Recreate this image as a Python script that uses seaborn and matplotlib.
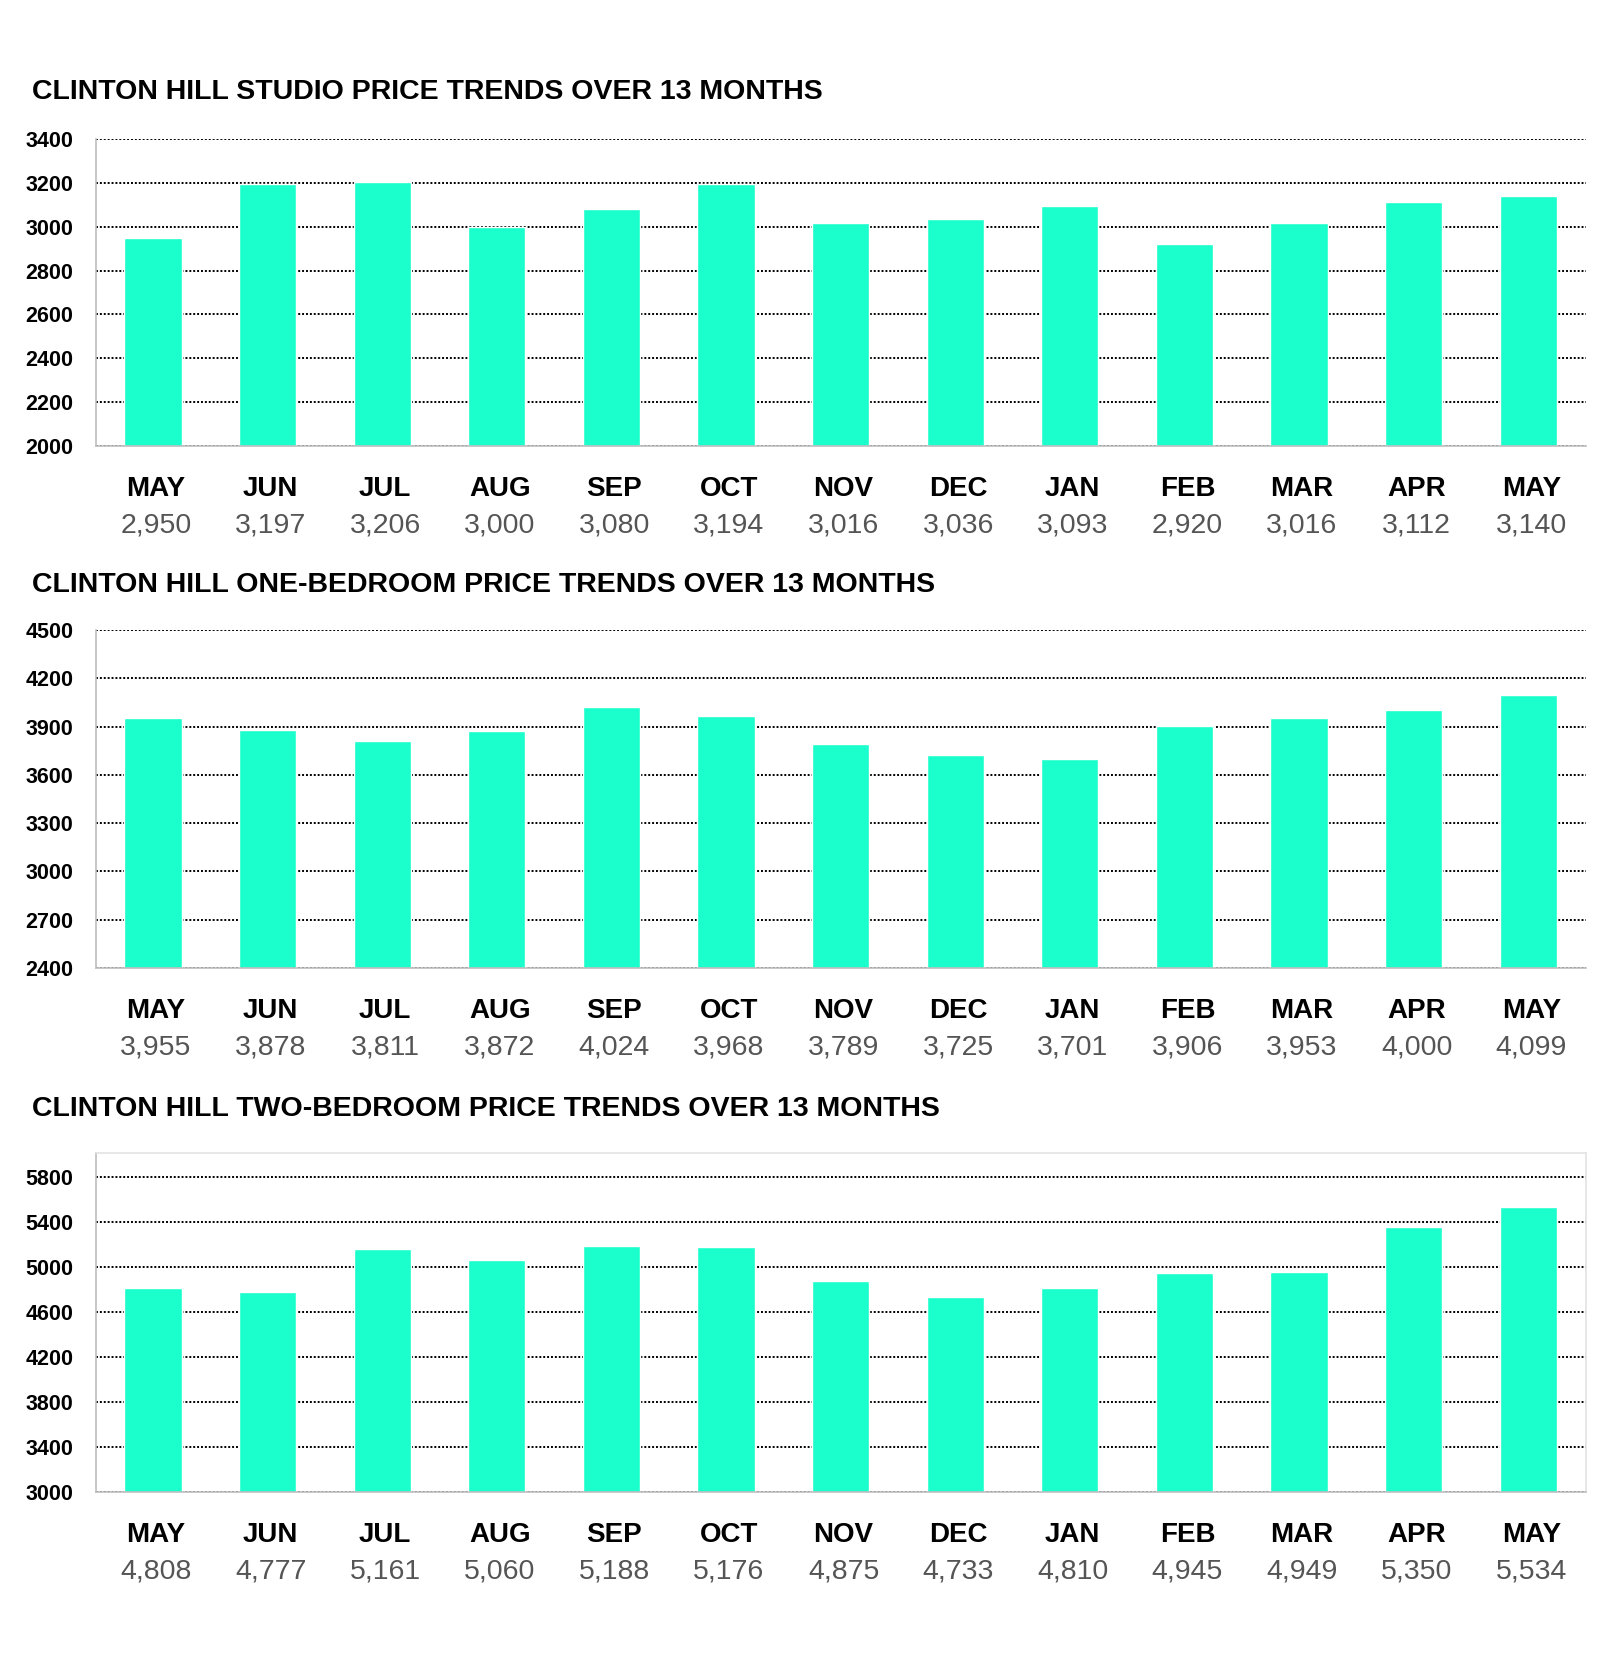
import numpy as np
import pandas as pd
import seaborn as sns
import matplotlib.pyplot as plt
from matplotlib.ticker import FixedLocator
from matplotlib.transforms import offset_copy

# data
months = ["MAY", "JUN", "JUL", "AUG", "SEP", "OCT", "NOV", "DEC", "JAN", "FEB", "MAR", "APR", "MAY"]
studio = [2950, 3197, 3206, 3000, 3080, 3194, 3016, 3036, 3093, 2920, 3016, 3112, 3140]
one_bed = [3955, 3878, 3811, 3872, 4024, 3968, 3789, 3725, 3701, 3906, 3953, 4000, 4099]
two_bed = [4808, 4777, 5161, 5060, 5188, 5176, 4875, 4733, 4810, 4945, 4949, 5350, 5534]

titles = ["CLINTON HILL STUDIO PRICE TRENDS OVER 13 MONTHS",
          "CLINTON HILL ONE-BEDROOM PRICE TRENDS OVER 13 MONTHS",
          "CLINTON HILL TWO-BEDROOM PRICE TRENDS OVER 13 MONTHS"]
yticks = [np.arange(2000, 3401, 200), np.arange(2400, 4501, 300), np.arange(3000, 5801, 400)]
ylims = [(2000, 3400), (2400, 4500), (3000, 6010)]

sns.set_theme(style="white")
plt.rcParams['font.family'] = ['Liberation Sans', 'DejaVu Sans']

BAR = "#1AFFCC"
GREY = "#BFBFBF"

fig = plt.figure(figsize=(16, 16.64), dpi=100)
H = 1664.0
W = 1600.0

# axes boxes in pixels: (top, bottom), title centre y
boxes = [(139, 446, 92), (630, 968, 585), (1153, 1492, 1109)]
x0, x1 = 95.7, 1585.5

for i, vals in enumerate([studio, one_bed, two_bed]):
    top, bot, ty = boxes[i]
    ax = fig.add_axes([x0 / W, 1 - bot / H, (x1 - x0) / W, (bot - top) / H])
    df = pd.DataFrame({"pos": np.arange(13), "price": vals})
    sns.barplot(data=df, x="pos", y="price", color=BAR, width=0.5,
                saturation=1, ax=ax, zorder=2)
    ax.set_xlim(-0.5, 12.5)
    ax.set_ylim(*ylims[i])
    ax.set_yticks(yticks[i])
    ax.set_yticklabels([str(v) for v in yticks[i]], fontsize=15.5, fontweight="bold", color="black")
    ax.set_xlabel("")
    ax.set_ylabel("")
    ax.set_axisbelow(True)
    ax.grid(axis="y", linestyle=(0, (1, 1)), color="black", linewidth=1.4)
    ax.grid(axis="x", visible=False)
    ax.tick_params(axis="y", length=0, pad=16)

    # month labels and values under each bar
    ax.set_xticks(np.arange(13))
    ax.set_xticklabels([])
    ax.xaxis.set_minor_locator(FixedLocator(np.arange(-0.5, 13, 1)))
    ax.tick_params(axis="x", which="major", length=0)
    ax.tick_params(axis="x", which="minor", length=6, width=1.2, color=GREY, direction="out")
    trans = offset_copy(ax.get_xaxis_transform(), fig=fig, x=3, y=0, units="dots")
    h = bot - top
    for j, m in enumerate(months):
        ax.text(j, -43 / h, m, transform=trans, ha="center", va="center",
                fontsize=20, fontweight="bold", color="black")
        ax.text(j, -79 / h, f"{vals[j]:,}", transform=trans, ha="center", va="center",
                fontsize=20.5, color="#555555")

    for s in ["left", "bottom"]:
        ax.spines[s].set_color(GREY)
        ax.spines[s].set_linewidth(1.2)
    if i == 2:
        ax.spines["top"].set_color("#E3E3E3")
        ax.spines["right"].set_color("#E3E3E3")
        ax.spines["top"].set_linewidth(1.2)
        ax.spines["right"].set_linewidth(1.2)
    else:
        ax.spines["top"].set_visible(False)
        ax.spines["right"].set_visible(False)

    fig.text(32 / W, 1 - ty / H, titles[i], ha="left", va="center",
             fontsize=20.5, fontweight="bold", color="black")

fig.savefig("out.png", dpi=100, facecolor="white")
